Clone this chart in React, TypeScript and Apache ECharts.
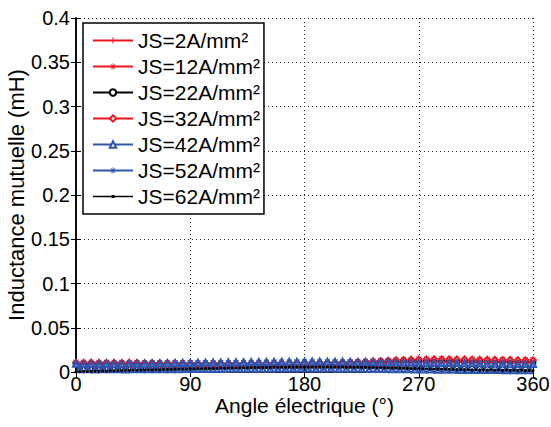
import React, { useEffect, useRef } from "react";
import * as echarts from "echarts";

const angles = [0,3,6,9,12,15,18,21,24,27,30,33,36,39,42,45,48,51,54,57,60,63,66,69,72,75,78,81,84,87,90,93,96,99,102,105,108,111,114,117,120,123,126,129,132,135,138,141,144,147,150,153,156,159,162,165,168,171,174,177,180,183,186,189,192,195,198,201,204,207,210,213,216,219,222,225,228,231,234,237,240,243,246,249,252,255,258,261,264,267,270,273,276,279,282,285,288,291,294,297,300,303,306,309,312,315,318,321,324,327,330,333,336,339,342,345,348,351,354,357,360];

const js2 = [0.0110,0.0064,0.0109,0.0065,0.0111,0.0063,0.0108,0.0064,0.0110,0.0066,0.0109,0.0064,0.0107,0.0063,0.0109,0.0065,0.0108,0.0062,0.0106,0.0063,0.0107,0.0064,0.0105,0.0062,0.0106,0.0061,0.0104,0.0062,0.0105,0.0060,0.0103,
0.0060,0.0102,0.0059,0.0103,0.0060,0.0101,0.0058,0.0102,0.0059,0.0100,0.0058,0.0101,0.0059,0.0100,0.0058,0.0101,0.0060,0.0102,0.0059,0.0101,0.0060,0.0103,0.0059,0.0102,0.0061,0.0103,0.0060,0.0104,0.0061,0.0103,0.0062,0.0105,0.0061,0.0106,0.0063,0.0108,0.0064,0.0110,0.0066,0.0112,0.0068,0.0115,0.0070,0.0118,0.0073,0.0121,0.0076,0.0125,0.0078,0.0129,
0.0081,0.0133,0.0084,0.0137,0.0086,0.0140,0.0088,0.0143,0.0090,0.0145,0.0091,0.0147,0.0092,0.0148,0.0093,0.0149,0.0092,0.0148,0.0092,0.0147,0.0091,0.0146,0.0090,0.0145,0.0090,0.0144,0.0089,0.0143,0.0089,0.0142,0.0088,0.0141,0.0088,0.0140,0.0087,0.0139,0.0087,0.0138,0.0086,0.0137];

const js12 = [0.0112,0.0066,0.0110,0.0067,0.0112,0.0065,0.0110,0.0066,0.0111,0.0067,0.0110,0.0065,0.0109,0.0064,0.0110,0.0066,0.0109,0.0064,0.0108,0.0064,0.0108,0.0065,0.0106,0.0063,0.0107,0.0062,0.0105,0.0063,0.0106,0.0061,0.0104,
0.0061,0.0103,0.0060,0.0104,0.0061,0.0102,0.0059,0.0103,0.0060,0.0101,0.0059,0.0102,0.0060,0.0101,0.0059,0.0102,0.0061,0.0103,0.0060,0.0102,0.0061,0.0104,0.0060,0.0103,0.0062,0.0104,0.0061,0.0105,0.0062,0.0104,0.0063,0.0106,0.0062,0.0107,0.0064,0.0109,0.0065,0.0111,0.0067,0.0113,0.0069,0.0116,0.0071,0.0119,0.0074,0.0122,0.0077,0.0126,0.0079,0.0130,
0.0082,0.0134,0.0085,0.0138,0.0087,0.0141,0.0089,0.0144,0.0091,0.0146,0.0092,0.0148,0.0093,0.0149,0.0094,0.0150,0.0093,0.0149,0.0093,0.0148,0.0092,0.0147,0.0091,0.0146,0.0091,0.0145,0.0090,0.0144,0.0090,0.0143,0.0089,0.0142,0.0089,0.0141,0.0088,0.0140,0.0088,0.0139,0.0087,0.0138];

const js22 = [0.0098,0.0056,0.0097,0.0057,0.0099,0.0055,0.0096,0.0056,0.0098,0.0058,0.0097,0.0056,0.0095,0.0055,0.0097,0.0057,0.0096,0.0054,0.0094,0.0055,0.0095,0.0056,0.0093,0.0054,0.0094,0.0053,0.0092,0.0054,0.0093,0.0052,0.0091,
0.0052,0.0090,0.0051,0.0091,0.0052,0.0089,0.0050,0.0090,0.0051,0.0088,0.0050,0.0089,0.0051,0.0088,0.0050,0.0089,0.0052,0.0090,0.0051,0.0089,0.0052,0.0091,0.0051,0.0090,0.0053,0.0091,0.0052,0.0092,0.0053,0.0091,0.0054,0.0093,0.0053,0.0094,0.0055,0.0096,0.0056,0.0098,0.0058,0.0100,0.0060,0.0103,0.0062,0.0106,0.0065,0.0109,0.0068,0.0113,0.0071,0.0117,
0.0074,0.0121,0.0077,0.0125,0.0079,0.0128,0.0081,0.0130,0.0082,0.0131,0.0082,0.0131,0.0081,0.0130,0.0080,0.0128,0.0078,0.0126,0.0077,0.0124,0.0075,0.0122,0.0074,0.0120,0.0073,0.0119,0.0072,0.0118,0.0071,0.0117,0.0070,0.0116,0.0070,0.0115,0.0069,0.0114,0.0069,0.0113,0.0068,0.0112];

const js32 = [0.0108,0.0062,0.0107,0.0063,0.0109,0.0061,0.0106,0.0062,0.0108,0.0064,0.0107,0.0062,0.0105,0.0061,0.0107,0.0063,0.0106,0.0060,0.0104,0.0061,0.0105,0.0062,0.0103,0.0060,0.0104,0.0059,0.0102,0.0060,0.0103,0.0058,0.0101,
0.0058,0.0100,0.0057,0.0101,0.0058,0.0099,0.0056,0.0100,0.0057,0.0098,0.0056,0.0099,0.0057,0.0098,0.0056,0.0099,0.0058,0.0100,0.0057,0.0099,0.0058,0.0101,0.0057,0.0100,0.0059,0.0101,0.0058,0.0102,0.0059,0.0101,0.0060,0.0103,0.0059,0.0104,0.0061,0.0106,0.0062,0.0108,0.0064,0.0110,0.0066,0.0113,0.0068,0.0116,0.0071,0.0119,0.0074,0.0123,0.0076,0.0127,
0.0079,0.0131,0.0082,0.0135,0.0084,0.0138,0.0086,0.0141,0.0088,0.0143,0.0089,0.0145,0.0090,0.0146,0.0091,0.0147,0.0090,0.0146,0.0090,0.0145,0.0089,0.0144,0.0088,0.0143,0.0088,0.0142,0.0087,0.0141,0.0087,0.0140,0.0086,0.0139,0.0086,0.0138,0.0085,0.0137,0.0085,0.0136,0.0084,0.0135];

const js42 = [0.0092,0.0030,0.0091,0.0031,0.0093,0.0029,0.0092,0.0030,0.0094,0.0031,0.0093,0.0030,0.0094,0.0029,0.0095,0.0030,0.0096,0.0031,0.0097,0.0030,0.0098,0.0031,0.0099,0.0032,0.0100,0.0031,0.0101,0.0032,0.0102,0.0033,0.0103,
0.0033,0.0104,0.0034,0.0106,0.0034,0.0107,0.0035,0.0108,0.0035,0.0109,0.0036,0.0110,0.0036,0.0111,0.0037,0.0112,0.0037,0.0113,0.0038,0.0114,0.0038,0.0115,0.0039,0.0116,0.0039,0.0117,0.0039,0.0117,0.0040,0.0118,0.0040,0.0118,0.0040,0.0118,0.0039,0.0117,0.0039,0.0117,0.0038,0.0116,0.0038,0.0115,0.0037,0.0114,0.0036,0.0113,0.0035,0.0112,0.0034,0.0111,
0.0033,0.0110,0.0032,0.0109,0.0031,0.0108,0.0030,0.0107,0.0029,0.0106,0.0028,0.0105,0.0027,0.0104,0.0026,0.0103,0.0025,0.0102,0.0025,0.0101,0.0024,0.0100,0.0024,0.0099,0.0023,0.0098,0.0023,0.0097,0.0022,0.0096,0.0022,0.0095,0.0021,0.0094,0.0021,0.0093,0.0020,0.0092,0.0020,0.0091];

const js52 = [0.0090,0.0032,0.0089,0.0033,0.0091,0.0031,0.0090,0.0032,0.0092,0.0033,0.0091,0.0032,0.0092,0.0031,0.0093,0.0032,0.0094,0.0033,0.0095,0.0032,0.0096,0.0033,0.0097,0.0034,0.0098,0.0033,0.0099,0.0034,0.0100,0.0035,0.0101,
0.0035,0.0102,0.0036,0.0104,0.0036,0.0105,0.0037,0.0106,0.0037,0.0107,0.0038,0.0108,0.0038,0.0109,0.0039,0.0110,0.0039,0.0111,0.0040,0.0112,0.0040,0.0113,0.0041,0.0114,0.0041,0.0115,0.0041,0.0115,0.0042,0.0116,0.0042,0.0116,0.0042,0.0116,0.0041,0.0115,0.0041,0.0115,0.0040,0.0114,0.0040,0.0113,0.0039,0.0112,0.0038,0.0111,0.0037,0.0110,0.0036,0.0109,
0.0035,0.0108,0.0034,0.0107,0.0033,0.0106,0.0032,0.0105,0.0031,0.0104,0.0030,0.0103,0.0029,0.0102,0.0028,0.0101,0.0027,0.0100,0.0027,0.0099,0.0026,0.0098,0.0026,0.0097,0.0025,0.0096,0.0025,0.0095,0.0024,0.0094,0.0024,0.0093,0.0023,0.0092,0.0023,0.0091,0.0022,0.0090,0.0022,0.0089];

const js62 = [0.0002,0.0004,0.0005,0.0006,0.0008,0.0009,0.0010,0.0011,0.0012,0.0013,0.0014,0.0015,0.0016,0.0017,0.0018,0.0019,0.0020,0.0021,0.0022,0.0023,0.0024,0.0025,0.0026,0.0027,0.0028,0.0029,0.0030,0.0031,0.0032,0.0033,0.0034,
0.0035,0.0036,0.0037,0.0038,0.0039,0.0040,0.0041,0.0042,0.0043,0.0044,0.0045,0.0046,0.0047,0.0047,0.0048,0.0049,0.0050,0.0050,0.0051,0.0052,0.0052,0.0053,0.0053,0.0054,0.0054,0.0055,0.0055,0.0055,0.0056,0.0056,
0.0056,0.0056,0.0057,0.0057,0.0057,0.0057,0.0057,0.0056,0.0056,0.0056,0.0055,0.0055,0.0054,0.0054,0.0053,0.0052,0.0051,0.0050,0.0049,0.0048,0.0047,0.0046,0.0045,0.0044,0.0043,0.0042,0.0041,0.0040,0.0039,0.0038,
0.0037,0.0036,0.0035,0.0034,0.0033,0.0032,0.0031,0.0030,0.0029,0.0028,0.0027,0.0027,0.0026,0.0025,0.0025,0.0024,0.0024,0.0023,0.0023,0.0022,0.0022,0.0021,0.0021,0.0020,0.0020,0.0019,0.0019,0.0018,0.0018,0.0017];

const seriesNames = ["JS=2A/mm²", "JS=12A/mm²", "JS=22A/mm²", "JS=32A/mm²", "JS=42A/mm²", "JS=52A/mm²", "JS=62A/mm²"];
const seriesValues = [js2, js12, js22, js32, js42, js52, js62];
const xTicks = [0, 90, 180, 270, 360];
const yTicks = [0, 0.05, 0.1, 0.15, 0.2, 0.25, 0.3, 0.35, 0.4];

const RED = "#f0141e";
const BLUE = "#2f56b0";
const BLACK = "#000000";
const PLUS = "path://M4.3,0H5.7V4.3H10V5.7H5.7V10H4.3V5.7H0V4.3H4.3Z";
const STAR = "path://M4.4,0H5.6V10H4.4Z M0,4.4H10V5.6H0Z M1.1,1.9L1.9,1.1L8.9,8.1L8.1,8.9Z M8.1,1.1L8.9,1.9L1.9,8.9L1.1,8.1Z";
const DOT_ICON = "path://M0,3.3H40V4.7H0Z M18.5,2.5H21.5V5.5H18.5Z";

const styles = [
  { color: RED, symbol: PLUS, size: 7 },
  { color: RED, symbol: STAR, size: 7 },
  { color: BLACK, symbol: "emptyCircle", size: 5 },
  { color: RED, symbol: "emptyDiamond", size: 5 },
  { color: BLUE, symbol: "emptyTriangle", size: 6 },
  { color: BLUE, symbol: STAR, size: 7 },
  { color: BLACK, symbol: "circle", size: 3 },
];

const FONT = "'Liberation Sans', Arial, Helvetica, sans-serif";

export default function App() {
  const ref = useRef<HTMLDivElement>(null);
  useEffect(() => {
    if (!ref.current) return;
    const chart = echarts.init(ref.current, undefined, { renderer: "svg" });
    const axisLine = { show: true, lineStyle: { color: "#000", width: 1.5 } };
    const tick = { show: true, inside: true, length: 5, lineStyle: { color: "#000", width: 1 } };
    const dotted = { show: true, lineStyle: { color: "#222", width: 1, type: [1, 3] } };
    chart.setOption({
      animation: false,
      backgroundColor: "#ffffff",
      grid: { left: 76, right: 18, top: 18, bottom: 55, containLabel: false, outerBoundsMode: "none" },
      legend: {
        orient: "vertical",
        left: 83,
        top: 23,
        padding: [7, 4, 7, 9],
        itemWidth: 40,
        itemHeight: 8,
        itemGap: 5,
        backgroundColor: "#ffffff",
        borderColor: "#000",
        borderWidth: 1.5,
        borderRadius: 0,
        data: seriesNames.map((n, i) => (i === 6 ? { name: n, icon: DOT_ICON, itemStyle: { color: BLACK } } : { name: n })),
        textStyle: { fontFamily: FONT, fontSize: 21, color: "#000", padding: [0, 0, 0, 0] },
      },
      xAxis: [
        {
          type: "value", min: 0, max: 360, interval: 90, position: "bottom",
          name: "Angle électrique (°)", nameLocation: "middle", nameGap: 23, nameMoveOverlap: false,
          nameTextStyle: { fontFamily: FONT, fontSize: 21, color: "#000" },
          axisLine, axisTick: tick, splitLine: dotted,
          axisLabel: { fontFamily: FONT, fontSize: 20, color: "#000", margin: 2, customValues: xTicks },
        },
        {
          type: "value", min: 0, max: 360, interval: 90, position: "top",
          axisLine, axisTick: tick, splitLine: { show: false }, axisLabel: { show: false },
        },
      ],
      yAxis: [
        {
          type: "value", min: 0, max: 0.4, interval: 0.05, position: "left",
          name: "Inductance mutuelle (mH)", nameLocation: "middle", nameGap: 49, nameMoveOverlap: false,
          nameTextStyle: { fontFamily: FONT, fontSize: 22, color: "#000" },
          axisLine, axisTick: tick, splitLine: dotted,
          axisLabel: { fontFamily: FONT, fontSize: 20, color: "#000", margin: 6, customValues: yTicks },
        },
        {
          type: "value", min: 0, max: 0.4, interval: 0.05, position: "right",
          axisLine, axisTick: tick, splitLine: { show: false }, axisLabel: { show: false },
        },
      ],
      series: seriesNames.map((name, i) => ({
        name,
        type: "line",
        xAxisIndex: 0,
        yAxisIndex: 0,
        data: angles.map((a, j) => [a, seriesValues[i][j]]),
        symbol: styles[i].symbol,
        symbolSize: styles[i].size,
        showAllSymbol: true,
        color: styles[i].color,
        lineStyle: { color: styles[i].color, width: 1.5 },
        itemStyle: { color: styles[i].color },
      })),
    });
    return () => chart.dispose();
  }, []);
  return <div ref={ref} style={{ width: 551, height: 427, position: "absolute", left: 0, top: 0 }} />;
}
